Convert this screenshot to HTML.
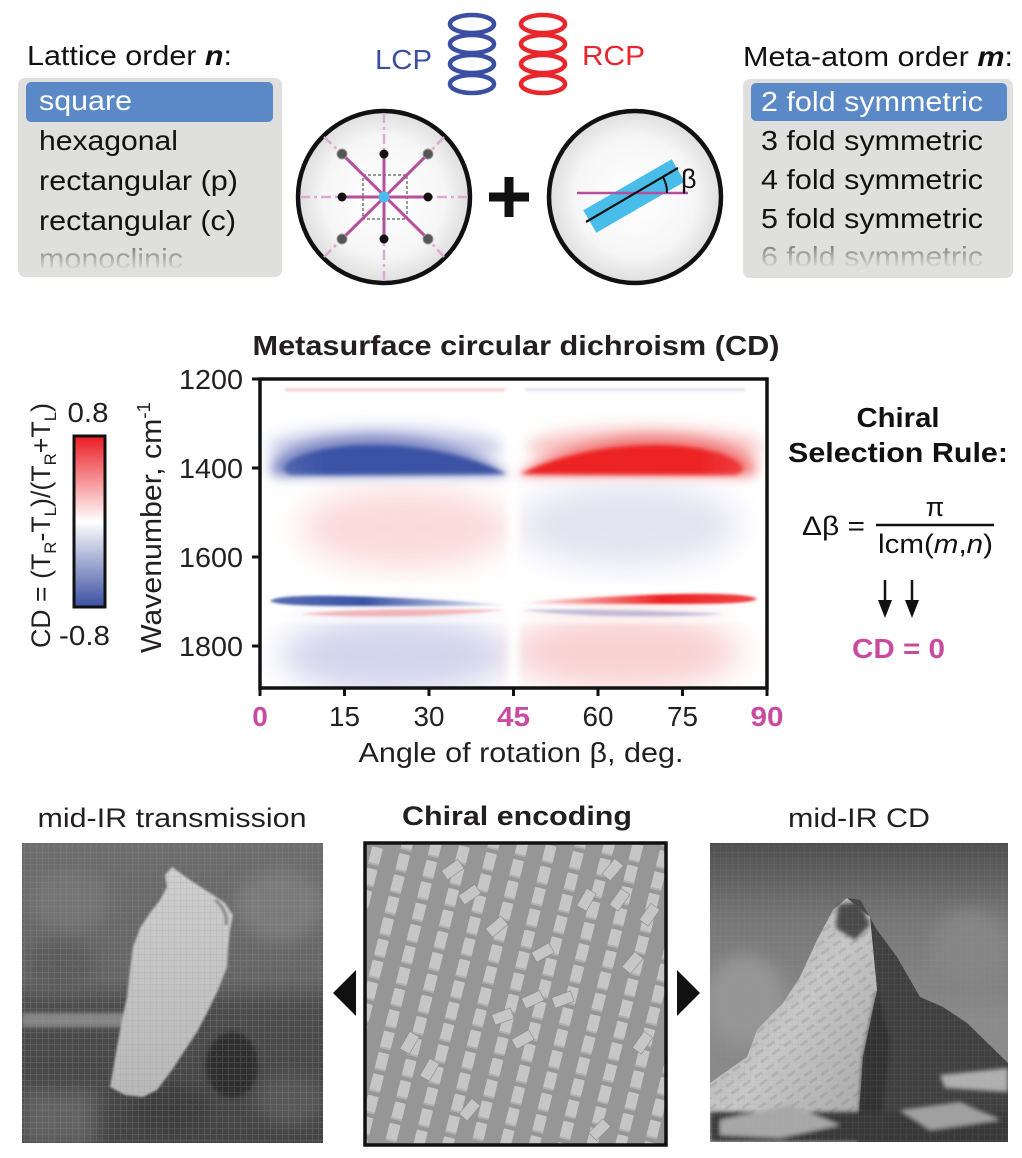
<!DOCTYPE html>
<html><head><meta charset="utf-8">
<style>
html,body{margin:0;padding:0;background:#fff}
svg{display:block}
text{font-family:"Liberation Sans",Arial,sans-serif}
</style></head>
<body>
<svg width="1022" height="1158" viewBox="0 0 1022 1158" xmlns="http://www.w3.org/2000/svg">
<defs>
  <linearGradient id="fade" x1="0" y1="0" x2="0" y2="1">
    <stop offset="0" stop-color="#6e6e6e"/><stop offset="1" stop-color="#ececec"/>
  </linearGradient>
  <radialGradient id="disc" cx="0.5" cy="0.5" r="0.5">
    <stop offset="0" stop-color="#ffffff"/><stop offset="0.7" stop-color="#f6f6f6"/><stop offset="1" stop-color="#dedede"/>
  </radialGradient>
  <linearGradient id="cbar" x1="0" y1="0" x2="0" y2="1">
    <stop offset="0" stop-color="#ec1c24"/><stop offset="0.5" stop-color="#ffffff"/><stop offset="1" stop-color="#3a4fa1"/>
  </linearGradient>
  <linearGradient id="gBlueStreak" x1="0" y1="0" x2="1" y2="0">
    <stop offset="0" stop-color="#3a53a4" stop-opacity="0.85"/><stop offset="0.4" stop-color="#3a53a4" stop-opacity="1"/><stop offset="1" stop-color="#3a53a4" stop-opacity="0.05"/>
  </linearGradient>
  <linearGradient id="gRedStreak" x1="1" y1="0" x2="0" y2="0">
    <stop offset="0" stop-color="#ed2224" stop-opacity="0.85"/><stop offset="0.4" stop-color="#ed2224" stop-opacity="1"/><stop offset="1" stop-color="#ed2224" stop-opacity="0.05"/>
  </linearGradient>
  <linearGradient id="gBlueCore" x1="0" y1="0" x2="1" y2="0">
    <stop offset="0" stop-color="#3a53a4" stop-opacity="0.7"/><stop offset="0.2" stop-color="#3a53a4" stop-opacity="1"/><stop offset="1" stop-color="#3a53a4" stop-opacity="1"/>
  </linearGradient>
  <linearGradient id="gRedCore" x1="1" y1="0" x2="0" y2="0">
    <stop offset="0" stop-color="#ed2224" stop-opacity="0.7"/><stop offset="0.2" stop-color="#ed2224" stop-opacity="1"/><stop offset="1" stop-color="#ed2224" stop-opacity="1"/>
  </linearGradient>
  <filter id="f1" filterUnits="userSpaceOnUse" x="200" y="330" width="620" height="420"><feGaussianBlur stdDeviation="1.2"/></filter>
  <filter id="f2" filterUnits="userSpaceOnUse" x="200" y="330" width="620" height="420"><feGaussianBlur stdDeviation="2.2"/></filter>
  <filter id="f4" filterUnits="userSpaceOnUse" x="200" y="330" width="620" height="420"><feGaussianBlur stdDeviation="4"/></filter>
  <filter id="f6" filterUnits="userSpaceOnUse" x="200" y="330" width="620" height="420"><feGaussianBlur stdDeviation="6"/></filter>
  <filter id="f8" filterUnits="userSpaceOnUse" x="200" y="330" width="620" height="420"><feGaussianBlur stdDeviation="8"/></filter>
  <filter id="f16" filterUnits="userSpaceOnUse" x="200" y="330" width="620" height="420"><feGaussianBlur stdDeviation="16"/></filter>
  <filter id="fi1" filterUnits="userSpaceOnUse" x="0" y="800" width="1022" height="358"><feGaussianBlur stdDeviation="1"/></filter>
  <filter id="fi2" filterUnits="userSpaceOnUse" x="0" y="800" width="1022" height="358"><feGaussianBlur stdDeviation="2"/></filter>
  <filter id="fi5" filterUnits="userSpaceOnUse" x="0" y="800" width="1022" height="358"><feGaussianBlur stdDeviation="8"/></filter>
  <clipPath id="cp"><rect x="261.75" y="380.75" width="503.5" height="305.5"/></clipPath>
  <clipPath id="cI"><rect x="22" y="843" width="301" height="300"/></clipPath>
  <clipPath id="cM"><rect x="710" y="843" width="298" height="299"/></clipPath>
  <clipPath id="cS"><rect x="365" y="843" width="301" height="302"/></clipPath>
  <linearGradient id="gCock" x1="0" y1="0" x2="0" y2="1">
    <stop offset="0" stop-color="#6c6c6c"/><stop offset="0.45" stop-color="#666"/><stop offset="0.55" stop-color="#4c4c4c"/><stop offset="1" stop-color="#444"/>
  </linearGradient>
  <linearGradient id="gBird" x1="0" y1="0" x2="0" y2="1">
    <stop offset="0" stop-color="#cfcfcf"/><stop offset="1" stop-color="#b8b8b8"/>
  </linearGradient>
  <linearGradient id="gSky" x1="0" y1="0" x2="0" y2="1">
    <stop offset="0" stop-color="#4e4e4e"/><stop offset="0.25" stop-color="#767676"/><stop offset="0.6" stop-color="#8a8a8a"/><stop offset="1" stop-color="#888"/>
  </linearGradient>
  <linearGradient id="gSnow" x1="0" y1="0" x2="1" y2="1">
    <stop offset="0" stop-color="#a0a0a0"/><stop offset="0.5" stop-color="#c8c8c8"/><stop offset="1" stop-color="#a4a4a4"/>
  </linearGradient>
  <pattern id="grid" width="6" height="6" patternUnits="userSpaceOnUse">
    <path d="M0 0.5H6M0.5 0V6" stroke="#9a9a9a" stroke-width="0.7" opacity="0.3"/>
  </pattern>
  <pattern id="streaks" width="14" height="9" patternUnits="userSpaceOnUse" patternTransform="rotate(-35)">
    <rect width="14" height="9" fill="none"/>
    <rect x="0" y="0" width="9" height="3" fill="#555" opacity="0.5"/>
  </pattern>
  <pattern id="sem" width="28" height="22" patternUnits="userSpaceOnUse" patternTransform="translate(364,842) rotate(14)">
    <rect width="28" height="22" fill="#969696"/>
    <rect x="9" y="2" width="11" height="18" rx="1" fill="#c6c6c6"/>
    <rect x="9" y="18" width="11" height="2" fill="#b0b0b0"/>
  </pattern>
</defs>

<rect width="1022" height="1158" fill="#fff"/>

<!-- ===== TOP LEFT LIST ===== -->
<text x="27" y="65" font-size="28" fill="#111" textLength="205" lengthAdjust="spacingAndGlyphs">Lattice order <tspan font-weight="bold" font-style="italic">n</tspan>:</text>
<rect x="18" y="78" width="264" height="199" rx="7" fill="#dfdfdd"/>
<rect x="26" y="82" width="247" height="40" rx="5" fill="#5b89c7"/>
<text x="39" y="110" font-size="28" fill="#fff" textLength="93" lengthAdjust="spacingAndGlyphs">square</text>
<text x="39" y="150" font-size="28" fill="#111" textLength="139" lengthAdjust="spacingAndGlyphs">hexagonal</text>
<text x="39" y="190" font-size="28" fill="#111" textLength="199" lengthAdjust="spacingAndGlyphs">rectangular (p)</text>
<text x="39" y="230" font-size="28" fill="#111" textLength="197" lengthAdjust="spacingAndGlyphs">rectangular (c)</text>
<text x="39" y="268" font-size="28" fill="url(#fade)" textLength="144" lengthAdjust="spacingAndGlyphs">monoclinic</text>

<!-- ===== TOP RIGHT LIST ===== -->
<text x="743" y="66" font-size="28" fill="#111" textLength="270" lengthAdjust="spacingAndGlyphs">Meta-atom order <tspan font-weight="bold" font-style="italic">m</tspan>:</text>
<rect x="743" y="79" width="270" height="199" rx="7" fill="#dfdfdd"/>
<rect x="751" y="83" width="256" height="38" rx="5" fill="#5b89c7"/>
<text x="761" y="111" font-size="28" fill="#fff" textLength="222" lengthAdjust="spacingAndGlyphs">2 fold symmetric</text>
<text x="761" y="150" font-size="28" fill="#111" textLength="222" lengthAdjust="spacingAndGlyphs">3 fold symmetric</text>
<text x="761" y="189" font-size="28" fill="#111" textLength="222" lengthAdjust="spacingAndGlyphs">4 fold symmetric</text>
<text x="761" y="228" font-size="28" fill="#111" textLength="222" lengthAdjust="spacingAndGlyphs">5 fold symmetric</text>
<text x="761" y="266" font-size="28" fill="url(#fade)" textLength="222" lengthAdjust="spacingAndGlyphs">6 fold symmetric</text>

<!-- ===== LCP / RCP ===== -->
<text x="375" y="69" font-size="28" fill="#3b4fa2" textLength="57" lengthAdjust="spacingAndGlyphs">LCP</text>
<text x="582" y="65" font-size="28" fill="#e9262b" textLength="63" lengthAdjust="spacingAndGlyphs">RCP</text>
<g fill="none" stroke="#3b4fa2" stroke-width="4.5">
  <ellipse cx="472" cy="24" rx="22" ry="9"/>
  <ellipse cx="472" cy="44" rx="22" ry="9"/>
  <ellipse cx="472" cy="64" rx="22" ry="9"/>
  <ellipse cx="472" cy="84" rx="22" ry="9"/>
</g>
<g fill="none" stroke="#e9262b" stroke-width="4.5">
  <ellipse cx="543" cy="24" rx="22" ry="9"/>
  <ellipse cx="543" cy="44" rx="22" ry="9"/>
  <ellipse cx="543" cy="64" rx="22" ry="9"/>
  <ellipse cx="543" cy="84" rx="22" ry="9"/>
</g>

<!-- ===== LEFT CIRCLE ===== -->
<circle cx="384" cy="197" r="86" fill="url(#disc)" stroke="#111" stroke-width="4.5"/>
<g stroke="#dcaad3" stroke-width="2.5" stroke-dasharray="10 4 3 4" fill="none">
  <line x1="300" y1="197" x2="342" y2="197"/>
  <line x1="468" y1="197" x2="428" y2="197"/>
  <line x1="384" y1="113" x2="384" y2="154"/>
  <line x1="384" y1="281" x2="384" y2="239"/>
  <line x1="324" y1="137" x2="342" y2="154"/>
  <line x1="444" y1="137" x2="428" y2="154"/>
  <line x1="324" y1="257" x2="342" y2="239"/>
  <line x1="444" y1="257" x2="428" y2="239"/>
</g>
<rect x="363" y="175" width="44" height="44" fill="none" stroke="#333" stroke-width="1" stroke-dasharray="3 2"/>
<g stroke="#b4509d" stroke-width="3">
  <line x1="342" y1="197" x2="428" y2="197"/>
  <line x1="384" y1="154" x2="384" y2="239"/>
  <line x1="342" y1="154" x2="428" y2="239"/>
  <line x1="428" y1="154" x2="342" y2="239"/>
</g>
<g fill="#111">
  <circle cx="384" cy="154" r="4.5"/><circle cx="384" cy="239" r="4.5"/>
  <circle cx="342" cy="197" r="4.5"/><circle cx="428" cy="197" r="4.5"/>
</g>
<g fill="#555" stroke="#999" stroke-width="1">
  <circle cx="342" cy="154" r="5"/><circle cx="428" cy="154" r="5"/>
  <circle cx="342" cy="239" r="5"/><circle cx="428" cy="239" r="5"/>
</g>
<circle cx="384" cy="197" r="5.5" fill="#49bde9"/>

<!-- plus -->
<rect x="489" y="192.5" width="40" height="9" fill="#111"/>
<rect x="504.5" y="177" width="9" height="40" fill="#111"/>

<!-- ===== RIGHT CIRCLE ===== -->
<circle cx="635" cy="197" r="86" fill="url(#disc)" stroke="#111" stroke-width="4.5"/>
<rect x="583" y="183" width="102" height="26" fill="#49bde9" transform="rotate(-30 634 196)"/>
<line x1="577" y1="193" x2="688" y2="193" stroke="#b4509d" stroke-width="2.5"/>
<line x1="586" y1="222" x2="678" y2="168" stroke="#111" stroke-width="2.2"/>
<path d="M667,193 A32,32 0 0,0 663,177" fill="none" stroke="#111" stroke-width="2"/>
<text x="681" y="188" font-size="27" fill="#111">β</text>

<!-- ===== HEATMAP ===== -->
<text x="516" y="355" text-anchor="middle" font-size="28" font-weight="bold" fill="#231f20" textLength="527" lengthAdjust="spacingAndGlyphs">Metasurface circular dichroism (CD)</text>

<g clip-path="url(#cp)">
  <rect x="260" y="379" width="507" height="309" fill="#fff"/>
  <g filter="url(#f16)">
    <ellipse cx="405" cy="528" rx="105" ry="40" fill="#fbdada"/>
    <ellipse cx="628" cy="525" rx="110" ry="42" fill="#e3e3f2"/>
    <ellipse cx="395" cy="655" rx="115" ry="38" fill="#d3d4ec"/>
    <ellipse cx="625" cy="652" rx="115" ry="38" fill="#f9d0d0"/>
  </g>
  <g filter="url(#f8)">
    <ellipse cx="385" cy="448" rx="118" ry="20" fill="#c4c8e6"/>
    <ellipse cx="645" cy="448" rx="118" ry="20" fill="#f7c0c0"/>
  </g>
  <g filter="url(#f2)" fill="#fff">
    <rect x="260" y="477" width="507" height="5"/>
    <rect x="260" y="584" width="507" height="7"/>
    <rect x="260" y="619" width="507" height="3"/>
  </g>
  <rect x="508" y="379" width="11" height="309" fill="#fff" filter="url(#f4)"/>
  <g filter="url(#f1)">
    <rect x="285" y="388.5" width="220" height="2.5" fill="#f6c0c0"/>
    <rect x="525" y="388.5" width="220" height="2.5" fill="#dcdcee"/>
  </g>
  <g filter="url(#f6)">
    <path d="M270,468 C277,449 320,436 375,436 C430,436 480,454 509,475 L275,476Z" fill="#7b86c2"/>
    <path d="M757,468 C750,449 707,436 652,436 C597,436 547,454 518,475 L752,476Z" fill="#f27a7a"/>
  </g>
  <g filter="url(#f2)">
    <path d="M284,468 C290,454 330,445 372,445 C425,445 472,457 507,474 L292,475 C286,474 284,471 284,468Z" fill="url(#gBlueCore)"/>
    <path d="M743,468 C737,454 697,445 655,445 C602,445 555,457 520,474 L735,475 C741,474 743,471 743,468Z" fill="url(#gRedCore)"/>
  </g>
  <g filter="url(#f1)">
    <path d="M270,601 C278,595 320,595 375,597 C430,599 475,602 506,605 C470,606 420,606 370,606 C320,606 278,606 270,601Z" fill="url(#gBlueStreak)"/>
    <path d="M757,599 C748,593 700,593 645,595 C595,597 550,600 522,603 C560,604 610,604 660,604 C712,604 750,604 757,599Z" fill="url(#gRedStreak)"/>
    <path d="M300,614 C350,609 430,609 505,610 C440,617 360,618 300,614Z" fill="#f39a9a" opacity="0.7"/>
    <path d="M522,610 C580,609 650,610 725,614 C660,618 580,617 522,610Z" fill="#9ea4d0" opacity="0.65"/>
  </g>
</g>
<rect x="260" y="379" width="507" height="309" fill="none" stroke="#111" stroke-width="3.5"/>
<g stroke="#111" stroke-width="3">
  <line x1="252" y1="379" x2="260" y2="379"/>
  <line x1="252" y1="468" x2="260" y2="468"/>
  <line x1="252" y1="557" x2="260" y2="557"/>
  <line x1="252" y1="646" x2="260" y2="646"/>
  <line x1="260" y1="688" x2="260" y2="696"/>
  <line x1="344.5" y1="688" x2="344.5" y2="696"/>
  <line x1="429" y1="688" x2="429" y2="696"/>
  <line x1="513.5" y1="688" x2="513.5" y2="696"/>
  <line x1="598" y1="688" x2="598" y2="696"/>
  <line x1="682.5" y1="688" x2="682.5" y2="696"/>
  <line x1="767" y1="688" x2="767" y2="696"/>
</g>
<g font-size="28" fill="#231f20" text-anchor="end">
  <text x="243" y="389" textLength="64" lengthAdjust="spacingAndGlyphs">1200</text>
  <text x="243" y="478" textLength="64" lengthAdjust="spacingAndGlyphs">1400</text>
  <text x="243" y="567" textLength="64" lengthAdjust="spacingAndGlyphs">1600</text>
  <text x="243" y="656" textLength="64" lengthAdjust="spacingAndGlyphs">1800</text>
</g>
<g font-size="28" fill="#231f20" text-anchor="middle">
  <text x="260" y="726" font-weight="bold" fill="#c94ba0">0</text>
  <text x="344.5" y="726" textLength="31" lengthAdjust="spacingAndGlyphs">15</text>
  <text x="429" y="726" textLength="31" lengthAdjust="spacingAndGlyphs">30</text>
  <text x="513.5" y="726" font-weight="bold" fill="#c94ba0" textLength="33" lengthAdjust="spacingAndGlyphs">45</text>
  <text x="598" y="726" textLength="31" lengthAdjust="spacingAndGlyphs">60</text>
  <text x="682.5" y="726" textLength="31" lengthAdjust="spacingAndGlyphs">75</text>
  <text x="767" y="726" font-weight="bold" fill="#c94ba0" textLength="33" lengthAdjust="spacingAndGlyphs">90</text>
  <text x="521" y="762" textLength="325" lengthAdjust="spacingAndGlyphs">Angle of rotation β, deg.</text>
</g>
<text transform="translate(161,653) rotate(-90)" font-size="29" fill="#231f20" textLength="251" lengthAdjust="spacingAndGlyphs">Wavenumber, cm<tspan dy="-11" font-size="18">-1</tspan></text>

<!-- colorbar -->
<text transform="translate(50,648) rotate(-90)" font-size="27" fill="#231f20" textLength="245" lengthAdjust="spacingAndGlyphs">CD = (T<tspan dy="6" font-size="17">R</tspan><tspan dy="-6">-T</tspan><tspan dy="6" font-size="17">L</tspan><tspan dy="-6">)/(T</tspan><tspan dy="6" font-size="17">R</tspan><tspan dy="-6">+T</tspan><tspan dy="6" font-size="17">L</tspan><tspan dy="-6">)</tspan></text>
<rect x="74" y="436" width="31" height="171" fill="url(#cbar)" stroke="#111" stroke-width="3"/>
<text x="88" y="422" font-size="28" fill="#231f20" text-anchor="middle" textLength="41" lengthAdjust="spacingAndGlyphs">0.8</text>
<text x="84.5" y="645" font-size="28" fill="#231f20" text-anchor="middle" textLength="51" lengthAdjust="spacingAndGlyphs">-0.8</text>

<!-- chiral selection rule -->
<text x="898" y="427" font-size="28" font-weight="bold" fill="#111" text-anchor="middle" textLength="83" lengthAdjust="spacingAndGlyphs">Chiral</text>
<text x="898" y="462" font-size="28" font-weight="bold" fill="#111" text-anchor="middle" textLength="220" lengthAdjust="spacingAndGlyphs">Selection Rule:</text>
<text x="802" y="535" font-size="27" fill="#111" textLength="63" lengthAdjust="spacingAndGlyphs">Δβ =</text>
<line x1="876" y1="525" x2="994" y2="525" stroke="#111" stroke-width="2.5"/>
<text x="935" y="516" font-size="27" fill="#111" text-anchor="middle">π</text>
<text x="878" y="553" font-size="27" fill="#111" textLength="115" lengthAdjust="spacingAndGlyphs">lcm(<tspan font-style="italic">m</tspan>,<tspan font-style="italic">n</tspan>)</text>
<g stroke="#111" stroke-width="2.5">
  <line x1="885" y1="580" x2="885" y2="603"/>
  <line x1="912" y1="580" x2="912" y2="603"/>
</g>
<polygon points="878,600 892,600 885,618" fill="#111"/>
<polygon points="905,600 919,600 912,618" fill="#111"/>
<text x="898.5" y="658" font-size="28" font-weight="bold" fill="#c94ba0" text-anchor="middle" textLength="93" lengthAdjust="spacingAndGlyphs">CD = 0</text>

<!-- ===== BOTTOM ===== -->
<text x="172" y="827" font-size="27" fill="#231f20" text-anchor="middle" textLength="269" lengthAdjust="spacingAndGlyphs">mid-IR transmission</text>
<text x="517" y="825" font-size="27" font-weight="bold" fill="#231f20" text-anchor="middle" textLength="230" lengthAdjust="spacingAndGlyphs">Chiral encoding</text>
<text x="859" y="827" font-size="27" fill="#231f20" text-anchor="middle" textLength="142" lengthAdjust="spacingAndGlyphs">mid-IR CD</text>

<!-- cockatoo -->
<g clip-path="url(#cI)">
  <rect x="22" y="843" width="301" height="300" fill="url(#gCock)"/>
  <g filter="url(#fi5)">
    <ellipse cx="280" cy="905" rx="45" ry="35" fill="#7a7a7a"/>
    <ellipse cx="70" cy="900" rx="40" ry="30" fill="#747474"/>
    <ellipse cx="60" cy="965" rx="35" ry="25" fill="#5c5c5c"/>
    <rect x="22" y="1090" width="75" height="55" fill="#626262"/>
    <ellipse cx="290" cy="1100" rx="35" ry="25" fill="#585858"/>
    <ellipse cx="170" cy="1110" rx="40" ry="25" fill="#3c3c3c"/>
  </g>
  <rect x="22" y="1013" width="110" height="14" fill="#868686" filter="url(#fi2)"/>
  <ellipse cx="232" cy="1065" rx="26" ry="33" fill="#2e2e2e" filter="url(#fi2)"/>
  <polygon points="172,867 190,880 210,893 225,903 233,915 230,930 228,950 227,967 218,990 207,1013 197,1032 187,1047 172,1070 157,1090 143,1097 125,1095 110,1087 113,1070 117,1047 122,1020 127,997 130,970 133,947 140,928 150,913 160,900 167,887 165,875" fill="url(#gBird)" filter="url(#fi1)"/>
  <path d="M215,900 C222,905 228,915 226,925" stroke="#888" stroke-width="3" fill="none" filter="url(#fi1)"/>
  <rect x="22" y="843" width="301" height="300" fill="url(#grid)"/>
</g>

<!-- SEM -->
<g clip-path="url(#cS)">
  <rect x="364" y="842" width="304" height="305" fill="url(#sem)"/>
  <g fill="#c6c6c6" stroke="#8a8a8a" stroke-width="0.6">
    <rect x="-10" y="-6" width="20" height="11" transform="translate(453,870) rotate(-35)"/>
    <rect x="-10" y="-6" width="20" height="11" transform="translate(497,927) rotate(-40)"/>
    <rect x="-10" y="-6" width="20" height="11" transform="translate(543,953) rotate(-30)"/>
    <rect x="-10" y="-6" width="20" height="11" transform="translate(533,1000) rotate(-25)"/>
    <rect x="-10" y="-6" width="20" height="11" transform="translate(503,1017) rotate(-20)"/>
    <rect x="-10" y="-6" width="20" height="11" transform="translate(523,1040) rotate(-30)"/>
    <rect x="-10" y="-6" width="20" height="11" transform="translate(613,870) rotate(-50)"/>
    <rect x="-10" y="-6" width="20" height="11" transform="translate(620,900) rotate(-55)"/>
    <rect x="-10" y="-6" width="20" height="11" transform="translate(633,963) rotate(-50)"/>
    <rect x="-10" y="-6" width="20" height="11" transform="translate(643,1043) rotate(-55)"/>
    <rect x="-10" y="-6" width="20" height="11" transform="translate(430,1070) rotate(-60)"/>
    <rect x="-10" y="-6" width="20" height="11" transform="translate(410,1043) rotate(-60)"/>
    <rect x="-10" y="-6" width="20" height="11" transform="translate(587,900) rotate(-60)"/>
    <rect x="-10" y="-6" width="20" height="11" transform="translate(650,915) rotate(-55)"/>
    <rect x="-10" y="-6" width="20" height="11" transform="translate(470,895) rotate(-35)"/>
    <rect x="-10" y="-6" width="20" height="11" transform="translate(563,1000) rotate(-20)"/>
    <rect x="-10" y="-6" width="20" height="11" transform="translate(600,1130) rotate(-45)"/>
    <rect x="-10" y="-6" width="20" height="11" transform="translate(470,1110) rotate(-50)"/>
  </g>
</g>
<rect x="365" y="843" width="301" height="302" fill="none" stroke="#111" stroke-width="3.5"/>

<!-- arrows -->
<polygon points="333,993 356,970 356,1016" fill="#111"/>
<polygon points="700,993 677,970 677,1016" fill="#111"/>

<!-- mountain -->
<g clip-path="url(#cM)">
  <rect x="710" y="843" width="298" height="299" fill="url(#gSky)"/>
  <ellipse cx="745" cy="1000" rx="40" ry="45" fill="#959595" filter="url(#fi5)"/>
  <ellipse cx="970" cy="950" rx="40" ry="40" fill="#858585" filter="url(#fi5)"/>
  <polygon points="847,898 860,900 877,930 897,957 920,997 943,1007 967,1023 1008,1063 1008,1142 857,1142 863,1057 877,990 870,917" fill="#404040"/>
  <polygon points="847,898 833,910 817,940 800,977 783,1003 757,1030 747,1057 710,1083 710,1142 857,1142 863,1057 877,990 870,917" fill="url(#gSnow)"/>
  <polygon points="847,898 833,910 817,940 800,977 783,1003 757,1030 747,1057 710,1083 710,1142 857,1142 863,1057 877,990 870,917" fill="url(#streaks)" opacity="0.3"/>
  <g filter="url(#fi2)">
    <polygon points="838,905 860,901 870,925 855,940 836,928" fill="#4a4a4a"/>
    <polygon points="863,1057 877,990 890,1040 880,1142 857,1142" fill="#333"/>
    <polygon points="940,1075 1008,1068 1008,1092 945,1088" fill="#b0b0b0"/>
    <rect x="710" y="1112" width="298" height="30" fill="#383838"/>
    <polygon points="720,1120 790,1105 840,1125 780,1138 720,1135" fill="#a8a8a8"/>
    <polygon points="900,1110 960,1102 1000,1120 930,1130" fill="#a0a0a0"/>
  </g>
  <rect x="710" y="843" width="298" height="299" fill="url(#grid)" opacity="0.5"/>
</g>
</svg>
</body></html>
